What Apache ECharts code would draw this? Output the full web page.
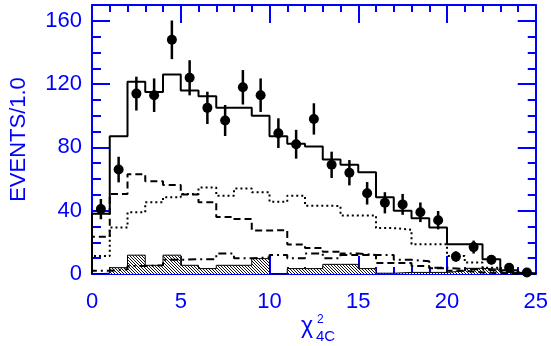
<!DOCTYPE html>
<html>
<head>
<meta charset="utf-8">
<script src="https://cdn.jsdelivr.net/npm/echarts@6/dist/echarts.min.js"></script>
<style>
  html, body { margin: 0; padding: 0; background: #fff; }
  #chart { width: 551px; height: 346px; }
</style>
</head>
<body>
<div id="chart"></div>
<script>
// bins of width 1 from 0 to 25
const binCenters = [0.5, 1.5, 2.5, 3.5, 4.5, 5.5, 6.5, 7.5, 8.5, 9.5, 10.5, 11.5, 12.5,
  13.5, 14.5, 15.5, 16.5, 17.5, 18.5, 19.5, 20.5, 21.5, 22.5, 23.5, 24.5]
const dataEvents = [41, 66, 114, 113, 148, 124, 105, 97, 118, 113, 89, 82, 98,
  69, 64, 51, 45, 44, 39, 34, 11, 17, 9, 4, 1]
const dataErrors = [6.4, 8.1, 10.7, 10.6, 12.2, 11.1, 10.2, 9.8, 10.9, 10.6, 9.4, 9.1, 9.9,
  8.3, 8, 7.1, 6.7, 6.6, 6.2, 5.8, 3.3, 4.1, 3, 2, 1]
const totalMC = [38, 87, 121.5, 115, 126, 116, 112.4, 105, 105, 100, 87, 82.3, 80.6,
  72.4, 69, 64.3, 48.5, 40, 35.3, 29.4, 18.8, 18.8, 9.3, 2.3, 0.5]
const dashedMC = [23.5, 50.6, 63, 58.6, 56.3, 50.2, 45.3, 36, 34.7, 27.5, 27.7, 18.6, 16.5,
  14, 12, 12, 7, 7, 5, 3.6, 2, 1, 0.5, 0, 0]
const dottedMC = [11.4, 29.4, 39, 45.3, 48.5, 50.6, 54.6, 49.5, 54, 51.6, 45.7, 49.5, 43.2,
  43, 37, 37, 29, 28, 18.8, 18.8, 11.4, 7.2, 4, 1, 0.3]
const dashDotMC = [2, 3, 5, 5.6, 9, 9.3, 9.3, 13, 10, 10.4, 12, 10, 13,
  10, 13, 12, 12, 9, 8, 4, 3, 3, 2, 1, 0]
const hatchedMC = [0.5, 4, 11.9, 5.5, 11.9, 5.5, 3.4, 5.5, 5.5, 9.7, 0, 3.4, 3.4,
  6.1, 6.1, 3.4, 0.5, 1, 1, 1, 2, 3.6, 3, 1, 0]
const xTicks = [0, 5, 10, 15, 20, 25]
const yTicks = [0, 40, 80, 120, 160]

const BLUE = '#0000ff'
const FONT = 'Liberation Sans'

// step outline from the bin values (bin k spans k..k+1)
function stepData(vals) {
  const d = [[0, 0]]
  vals.forEach((v, i) => d.push([i, v]))
  d.push([vals.length, vals[vals.length - 1]])
  d.push([vals.length, 0])
  return d
}

function hatchPattern() {
  const c = document.createElement('canvas')
  c.width = 3
  c.height = 3
  const ctx = c.getContext('2d')
  ctx.fillStyle = '#fff'
  ctx.fillRect(0, 0, 3, 3)
  ctx.fillStyle = '#111'
  // one diagonal of dark pixels per tile
  ctx.fillRect(0, 0, 1, 1)
  ctx.fillRect(1, 1, 1, 1)
  ctx.fillRect(2, 2, 1, 1)
  return c
}

function xAxisDef(position, showLabels) {
  return {
    type: 'value',
    position: position,
    min: xTicks[0],
    max: xTicks[xTicks.length - 1],
    interval: 5,
    axisLine: { show: true, onZero: false, lineStyle: { color: BLUE, width: 2 } },
    axisTick: { show: true, inside: true, length: 18, lineStyle: { color: BLUE, width: 2 } },
    minorTick: { show: true, splitNumber: 5, length: 7, lineStyle: { color: BLUE, width: 2 } },
    axisLabel: { show: showLabels, color: BLUE, fontSize: 22, fontFamily: FONT, margin: 17 },
    splitLine: { show: false }
  }
}

function yAxisDef(position, interval, tickLen, showLabels) {
  return {
    type: 'value',
    position: position,
    min: 0,
    max: 170,
    interval: interval,
    axisLine: { show: interval === 40, onZero: false, lineStyle: { color: BLUE, width: 2 } },
    axisTick: { show: true, inside: true, length: tickLen, lineStyle: { color: BLUE, width: 2 } },
    axisLabel: { show: showLabels, showMaxLabel: false, color: BLUE, fontSize: 22, fontFamily: FONT, margin: 10 },
    splitLine: { show: false }
  }
}

const chart = echarts.init(document.getElementById('chart'))

const yMain = yAxisDef('left', 40, 18, true)
yMain.name = 'EVENTS/1.0'
yMain.nameLocation = 'middle'
yMain.nameGap = 62
yMain.nameTextStyle = { color: BLUE, fontSize: 22, fontFamily: FONT }

const lineBase = { type: 'line', step: 'end', showSymbol: false, symbol: 'none', animation: false }

chart.setOption({
  animation: false,
  grid: { left: 90, right: 13, top: 5, bottom: 72 },
  xAxis: [xAxisDef('bottom', true), xAxisDef('top', false)],
  yAxis: [
    yMain,
    yAxisDef('left', 10, 9, false),
    yAxisDef('right', 40, 18, false),
    yAxisDef('right', 10, 8, false)
  ],
  graphic: [
    { type: 'text', x: 301, y: 338, style: { text: 'χ', font: '23px "Liberation Sans"', fill: BLUE, textVerticalAlign: 'bottom' } },
    { type: 'text', x: 317, y: 326, style: { text: '2', font: '12px "Liberation Sans"', fill: BLUE, textVerticalAlign: 'bottom' } },
    { type: 'text', x: 316, y: 344, style: { text: '4C', font: '15px "Liberation Sans"', fill: BLUE, textVerticalAlign: 'bottom' } }
  ],
  series: [
    Object.assign({}, lineBase, {
      name: 'hatched',
      data: stepData(hatchedMC),
      lineStyle: { color: '#000', width: 1 },
      areaStyle: { color: { image: hatchPattern(), repeat: 'repeat' }, opacity: 1 }
    }),
    Object.assign({}, lineBase, {
      name: 'dashdot',
      data: stepData(dashDotMC),
      lineStyle: { color: '#000', width: 2, type: [8, 4, 2, 4] }
    }),
    Object.assign({}, lineBase, {
      name: 'dotted',
      data: stepData(dottedMC),
      lineStyle: { color: '#000', width: 2, type: [2, 3] }
    }),
    Object.assign({}, lineBase, {
      name: 'dashed',
      data: stepData(dashedMC),
      lineStyle: { color: '#000', width: 2, type: [7, 4] }
    }),
    Object.assign({}, lineBase, {
      name: 'total',
      data: stepData(totalMC),
      lineStyle: { color: '#000', width: 2 }
    }),
    {
      type: 'custom',
      name: 'errors',
      clip: true,
      data: binCenters.map((x, i) => [x, dataEvents[i], dataErrors[i]]),
      encode: { x: 0, y: 1 },
      renderItem: (params, api) => {
        const x = api.value(0)
        const y = api.value(1)
        const e = api.value(2)
        const top = api.coord([x, y + e])
        const bot = api.coord([x, y - e])
        return {
          type: 'line',
          shape: { x1: top[0], y1: top[1], x2: bot[0], y2: bot[1] },
          style: { stroke: '#000', lineWidth: 2.5 }
        }
      }
    },
    {
      type: 'scatter',
      name: 'data',
      data: binCenters.map((x, i) => [x, dataEvents[i]]),
      symbol: 'circle',
      symbolSize: 10,
      itemStyle: { color: '#000', opacity: 1 },
      clip: false
    }
  ]
})
</script>
</body>
</html>
